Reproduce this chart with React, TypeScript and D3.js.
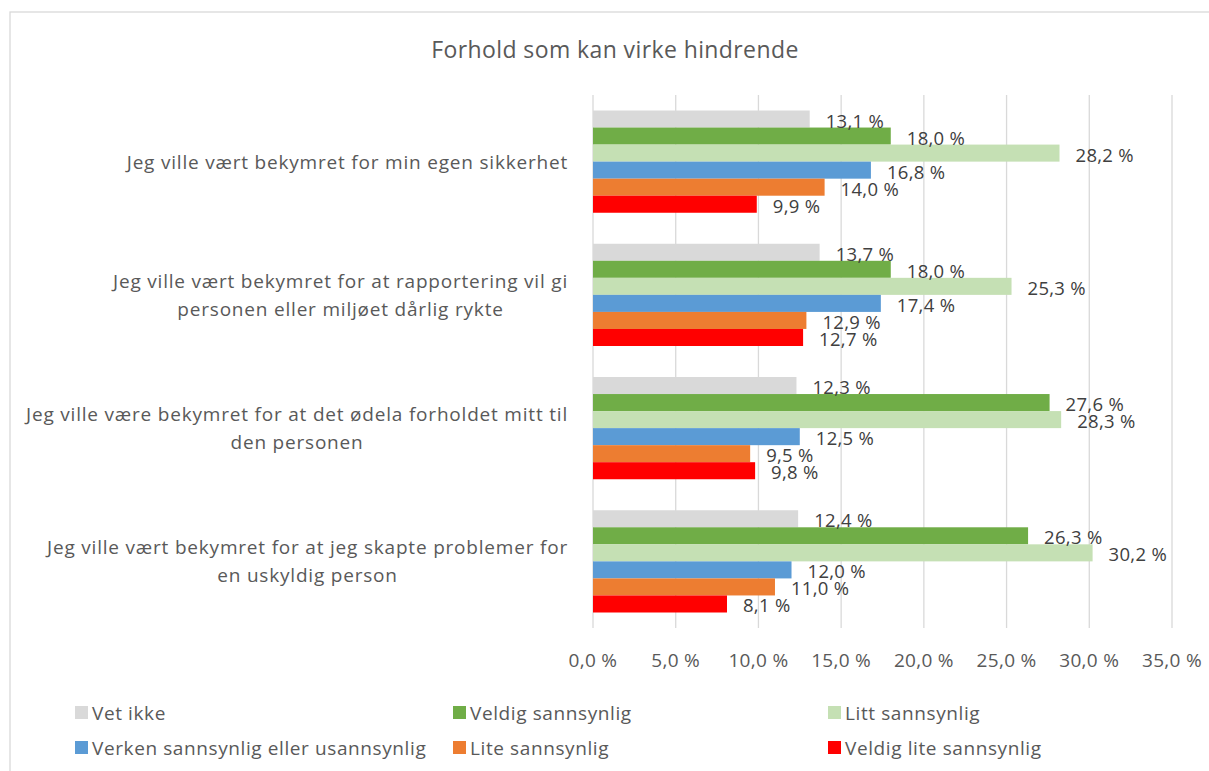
import * as React from "react"
import * as d3 from "d3"

const categories = [
  ["Jeg ville vært bekymret for min egen sikkerhet"],
  ["Jeg ville vært bekymret for at rapportering vil gi", "personen eller miljøet dårlig rykte"],
  ["Jeg ville være bekymret for at det ødela forholdet mitt til", "den personen"],
  ["Jeg ville vært bekymret for at jeg skapte problemer for", "en uskyldig person"],
]

const seriesNames = [
  "Vet ikke",
  "Veldig sannsynlig",
  "Litt sannsynlig",
  "Verken sannsynlig eller usannsynlig",
  "Lite sannsynlig",
  "Veldig lite sannsynlig",
]
const seriesColors = ["#d9d9d9", "#70ad47", "#c5e0b4", "#5b9bd5", "#ed7d31", "#ff0000"]

const vetIkke = [13.1, 13.7, 12.3, 12.4]
const veldigSannsynlig = [18.0, 18.0, 27.6, 26.3]
const littSannsynlig = [28.2, 25.3, 28.3, 30.2]
const verken = [16.8, 17.4, 12.5, 12.0]
const liteSannsynlig = [14.0, 12.9, 9.5, 11.0]
const veldigLite = [9.9, 12.7, 9.8, 8.1]
const seriesValues = [vetIkke, veldigSannsynlig, littSannsynlig, verken, liteSannsynlig, veldigLite]

const xTicks = [0, 5, 10, 15, 20, 25, 30, 35]

const W = 1209
const H = 771
const FONT = "'Open Sans', 'Noto Sans', sans-serif"
const TEXT = "#595959"

const fmt = (v: number) => v.toFixed(1).replace(".", ",") + " %"

function render(svgEl: SVGSVGElement) {
  const svg = d3.select(svgEl)
  svg.selectAll("*").remove()

  const plot = { left: 593, right: 1172, top: 95, bottom: 628 }

  const x = d3.scaleLinear().domain([0, 35]).range([plot.left, plot.right])
  const yGroup = d3
    .scaleBand<number>()
    .domain(categories.map((_d, i) => i))
    .range([plot.top, plot.bottom])
  const ySeries = d3
    .scaleBand<number>()
    .domain(seriesNames.map((_d, i) => i))
    .range([15.5, yGroup.bandwidth() - 15.5])

  // chart frame
  svg
    .append("rect")
    .attr("x", 10)
    .attr("y", 12)
    .attr("width", W + 20)
    .attr("height", H + 20)
    .attr("fill", "#fff")
    .attr("stroke", "#d9d9d9")
    .attr("stroke-width", 1.3)

  svg
    .append("text")
    .attr("x", 615)
    .attr("y", 49)
    .attr("text-anchor", "middle")
    .attr("dominant-baseline", "central")
    .attr("font-family", FONT)
    .attr("font-size", 23)
    .attr("letter-spacing", 0.4)
    .attr("fill", TEXT)
    .text("Forhold som kan virke hindrende")

  // gridlines
  svg
    .append("g")
    .selectAll("line")
    .data(xTicks)
    .join("line")
    .attr("x1", (d) => x(d))
    .attr("x2", (d) => x(d))
    .attr("y1", plot.top)
    .attr("y2", plot.bottom)
    .attr("stroke", "#d9d9d9")
    .attr("stroke-width", 1.3)

  svg
    .append("g")
    .selectAll("text")
    .data(xTicks)
    .join("text")
    .attr("x", (d) => x(d))
    .attr("y", 660)
    .attr("text-anchor", "middle")
    .attr("dominant-baseline", "central")
    .attr("font-family", FONT)
    .attr("font-size", 19)
    .attr("letter-spacing", 0.3)
    .attr("fill", TEXT)
    .text((d) => fmt(d))

  // bars
  const groups = svg
    .append("g")
    .selectAll("g")
    .data(categories)
    .join("g")
    .attr("transform", (_d, i) => `translate(0,${yGroup(i)})`)

  groups.each(function (_c, gi) {
    const g = d3.select(this)
    g.selectAll("rect")
      .data(seriesValues.map((s) => s[gi]))
      .join("rect")
      .attr("x", x(0))
      .attr("y", (_d, si) => ySeries(si)!)
      .attr("width", (d) => x(d) - x(0))
      .attr("height", ySeries.bandwidth())
      .attr("fill", (_d, si) => seriesColors[si])
    g.selectAll("text")
      .data(seriesValues.map((s) => s[gi]))
      .join("text")
      .attr("x", (d) => x(d) + 16)
      .attr("y", (_d, si) => ySeries(si)! + ySeries.bandwidth() / 2 + 1)
      .attr("dominant-baseline", "central")
      .attr("font-family", FONT)
      .attr("font-size", 18.5)
      .attr("letter-spacing", 0.3)
      .attr("fill", "#404040")
      .text((d) => fmt(d))
  })

  // category labels, lines centred on each other, block right-aligned
  const lineH = 28
  categories.forEach((lines, i) => {
    const cy = yGroup(i)! + yGroup.bandwidth() / 2
    const t = svg
      .append("g")
      .selectAll("text")
      .data(lines)
      .join("text")
      .attr("y", (_d, li) => cy + (li - (lines.length - 1) / 2) * lineH)
      .attr("text-anchor", "middle")
      .attr("dominant-baseline", "central")
      .attr("font-family", FONT)
      .attr("font-size", 19)
      .attr("letter-spacing", 0.8)
      .attr("fill", TEXT)
      .text((d) => d)
    let maxW = 0
    t.each(function () {
      maxW = Math.max(maxW, (this as SVGTextElement).getComputedTextLength())
    })
    t.attr("x", 568 - maxW / 2)
  })

  // legend
  const legendCols = [75, 453, 828]
  const legendRows = [713, 748]
  const legend = svg
    .append("g")
    .selectAll("g")
    .data(seriesNames)
    .join("g")
    .attr(
      "transform",
      (_d, i) => `translate(${legendCols[i % 3]},${legendRows[Math.floor(i / 3)]})`
    )
  legend
    .append("rect")
    .attr("x", 0)
    .attr("y", -7)
    .attr("width", 13)
    .attr("height", 13)
    .attr("fill", (_d, i) => seriesColors[i])
  legend
    .append("text")
    .attr("x", 17)
    .attr("y", 0)
    .attr("dominant-baseline", "central")
    .attr("font-family", FONT)
    .attr("font-size", 19)
    .attr("letter-spacing", 0.6)
    .attr("fill", TEXT)
    .text((d) => d)
}

export default function App(): React.JSX.Element {
  const ref = React.useRef<SVGSVGElement>(null)

  React.useEffect(() => {
    if (ref.current) render(ref.current)
  }, [])

  return (
    <svg
      ref={ref}
      width={W}
      height={H}
      style={{ position: "absolute", left: 0, top: 0, background: "#fff" }}
    />
  )
}
